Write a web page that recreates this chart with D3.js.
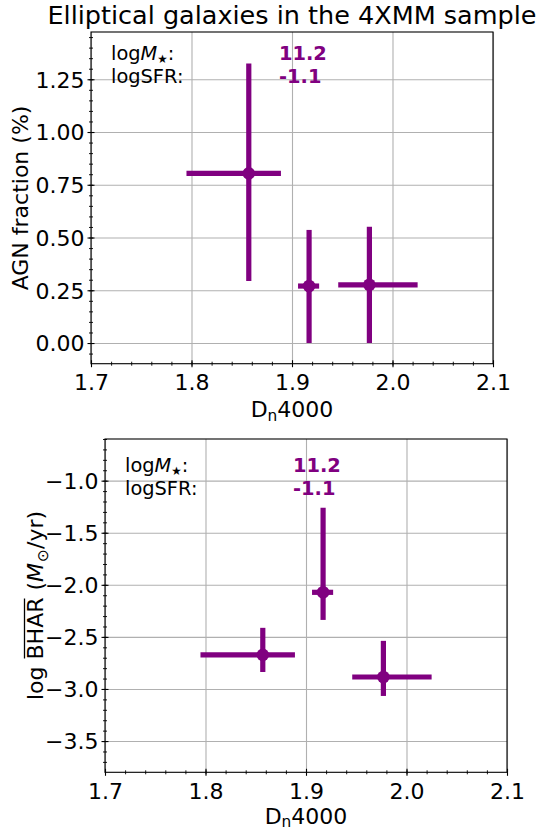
<!DOCTYPE html>
<html><head><meta charset="utf-8">
<script src="https://cdn.jsdelivr.net/npm/d3@7"></script>
<style>body{margin:0;background:#fff} text{font-family:"DejaVu Sans",sans-serif;fill:#000;white-space:pre}</style>
</head><body><svg id="c" width="543" height="830" xmlns="http://www.w3.org/2000/svg"></svg>
<script>
// ---------------- data ----------------
const dn4000    = [1.857, 1.917, 1.977];
const dn4000Lo  = [1.795, 1.906, 1.946];
const dn4000Hi  = [1.889, 1.927, 2.025];
const agnFrac   = [0.804, 0.270, 0.276];
const agnFracLo = [0.294, 0.000, 0.000];
const agnFracHi = [1.325, 0.536, 0.551];
const logBHAR   = [-2.673, -2.072, -2.885];
const logBHARLo = [-2.837, -2.337, -3.067];
const logBHARHi = [-2.413, -1.260, -2.538];
const xTicks    = [1.7, 1.8, 1.9, 2.0, 2.1];
const agnTicks  = [0.00, 0.25, 0.50, 0.75, 1.00, 1.25];
const bharTicks = [-3.5, -3.0, -2.5, -2.0, -1.5, -1.0];
const annotMass = "11.2";
const annotSFR  = "-1.1";
const titleText = "Elliptical galaxies in the 4XMM sample";

// ---------------- drawing ----------------
const svg = d3.select("#c");
svg.append("rect").attr("width",543).attr("height",830).attr("fill","#fff");
const PURPLE = "#800080";
const FS = 22, AFS = 19.4;

function panel(cfg){
  const g = svg.append("g");
  const x = d3.scaleLinear().domain([1.7,2.1]).range([cfg.left,cfg.right]);
  const y = d3.scaleLinear().domain(cfg.ydom).range([cfg.bottom,cfg.top]);
  const H = cfg.bottom-cfg.top, W = cfg.right-cfg.left;

  // grid
  const gx = g.append("g").attr("transform",`translate(0,${cfg.bottom})`)
    .call(d3.axisBottom(x).tickValues(xTicks).tickSize(-H).tickFormat(""));
  const gy = g.append("g").attr("transform",`translate(${cfg.left},0)`)
    .call(d3.axisLeft(y).tickValues(cfg.yticks).tickSize(-W).tickFormat(""));
  [gx,gy].forEach(a=>{a.select(".domain").remove();
    a.selectAll("line").attr("stroke","#b0b0b0").attr("stroke-width",1.1);});

  // error bars + markers
  const idx = d3.range(cfg.yv.length);
  const eb = g.append("g");
  eb.selectAll("line.xe").data(idx).join("line")
    .attr("x1",i=>x(dn4000Lo[i])).attr("x2",i=>x(dn4000Hi[i]))
    .attr("y1",i=>y(cfg.yv[i])).attr("y2",i=>y(cfg.yv[i]))
    .attr("stroke",PURPLE).attr("stroke-width",5.2);
  eb.selectAll("line.ye").data(idx).join("line")
    .attr("x1",i=>x(dn4000[i])).attr("x2",i=>x(dn4000[i]))
    .attr("y1",i=>y(cfg.ylo[i])).attr("y2",i=>y(cfg.yhi[i]))
    .attr("stroke",PURPLE).attr("stroke-width",5.2);
  eb.selectAll("circle").data(idx).join("circle")
    .attr("cx",i=>x(dn4000[i])).attr("cy",i=>y(cfg.yv[i])).attr("r",6.3)
    .attr("fill",PURPLE);

  // spines
  g.append("rect").attr("x",cfg.left).attr("y",cfg.top).attr("width",W).attr("height",H)
    .attr("fill","none").attr("stroke","#000").attr("stroke-width",1.1);

  // minor ticks
  const xMinor = d3.range(0,21).map(k=>1.7+k*0.02);
  const gxm = g.append("g").attr("transform",`translate(0,${cfg.bottom})`)
    .call(d3.axisBottom(x).tickValues(xMinor).tickSize(2).tickFormat(""));
  gxm.select(".domain").remove();
  gxm.selectAll("line").attr("y1",-2).attr("y2",2).attr("stroke-width",0.9);
  const gym = g.append("g").attr("transform",`translate(${cfg.left},0)`)
    .call(d3.axisLeft(y).tickValues(cfg.yminor).tickSize(2).tickFormat(""));
  gym.select(".domain").remove();
  gym.selectAll("line").attr("x1",2).attr("x2",-2).attr("stroke-width",0.9);

  // major ticks + labels
  const ax = g.append("g").attr("transform",`translate(0,${cfg.bottom})`)
    .call(d3.axisBottom(x).tickValues(xTicks).tickSize(3.5).tickFormat(d3.format(".1f")));
  ax.select(".domain").remove();
  ax.selectAll("line").attr("y1",-3.5).attr("y2",3.5).attr("stroke-width",1.1);
  ax.selectAll("text").attr("y",26.7).attr("dy",0).attr("font-size",FS)
    .attr("font-family","DejaVu Sans");
  const ay = g.append("g").attr("transform",`translate(${cfg.left},0)`)
    .call(d3.axisLeft(y).tickValues(cfg.yticks).tickSize(3.5).tickFormat(cfg.yfmt));
  ay.select(".domain").remove();
  ay.selectAll("line").attr("x1",3.5).attr("x2",-3.5).attr("stroke-width",1.1);
  ay.selectAll("text").attr("x",-6.5).attr("dy","0.36em").attr("font-size",FS)
    .attr("font-family","DejaVu Sans");

  // x label: D_n4000
  const xl = g.append("text").attr("x",(cfg.left+cfg.right)/2).attr("y",cfg.bottom+cfg.xlab)
    .attr("text-anchor","middle").attr("font-size",FS);
  xl.append("tspan").text("D");
  xl.append("tspan").attr("font-size",FS*0.7).attr("dy",FS*0.15).text("n");
  xl.append("tspan").attr("dy",-FS*0.15).text("4000");

  // annotations
  const a1 = g.append("text").attr("x",cfg.left+20).attr("y",cfg.top+cfg.ann1).attr("font-size",AFS);
  a1.append("tspan").text("log");
  a1.append("tspan").attr("font-style","italic").text("M");
  a1.append("tspan").attr("font-size",AFS*0.6).attr("dy",AFS*0.15).text("★");
  a1.append("tspan").attr("dy",-AFS*0.15).text(":");
  g.append("text").attr("x",cfg.left+20).attr("y",cfg.top+cfg.ann2).attr("font-size",AFS).text("logSFR:");
  g.append("text").attr("x",cfg.left+188).attr("y",cfg.top+cfg.ann1).attr("font-size",AFS)
    .attr("font-weight","bold").style("fill",PURPLE).text(annotMass);
  g.append("text").attr("x",cfg.left+188).attr("y",cfg.top+cfg.ann2).attr("font-size",AFS)
    .attr("font-weight","bold").style("fill",PURPLE).text(annotSFR);
  return {x,y};
}

const fmtMinus = f => d => f(d).replace("-","\u2212");

panel({left:91,right:493,top:32,bottom:363.7,ydom:[-0.098,1.474],
  yticks:agnTicks, yminor:d3.range(-1,30).map(k=>k*0.05).filter(v=>v>-0.098&&v<1.474),
  yfmt:d3.format(".2f"), yv:agnFrac, ylo:agnFracLo, yhi:agnFracHi, ann1:28, ann2:50.5, xlab:53.5});

panel({left:105,right:507,top:439,bottom:772.3,ydom:[-3.8,-0.6],
  yticks:bharTicks, yminor:d3.range(-38,-5).map(k=>k*0.1).filter(v=>v>-3.8&&v<-0.6),
  yfmt:fmtMinus(d3.format(".1f")), yv:logBHAR, ylo:logBHARLo, yhi:logBHARHi, ann1:33, ann2:55.5, xlab:51.5});

// title
svg.append("text").attr("x",292).attr("y",24).attr("text-anchor","middle")
  .attr("font-size",25.5).text(titleText);

// y label top
svg.append("text").attr("transform","translate(27.5,198) rotate(-90)")
  .attr("text-anchor","middle").attr("font-size",FS).text("AGN fraction (%)");

// y label bottom: log \overline{BHAR} (M_\odot/yr)
(function(){
  const g = svg.append("g").attr("transform","translate(43,605.5) rotate(-90)");
  const sp = 0.318*FS;
  const pieces = [
    {t:"log", fs:FS, gap:sp},
    {t:"BHAR", fs:FS, over:true, gap:sp},
    {t:"(", fs:FS},
    {t:"M", fs:FS, it:true, gap:1},
    {t:"\u2299", fs:FS*0.7, dy:FS*0.22},
    {t:"/yr)", fs:FS}
  ];
  let cx = 0; const items=[];
  pieces.forEach(p=>{
    const t = g.append("text").attr("x",cx).attr("y",p.dy||0).attr("font-size",p.fs)
      .attr("font-style",p.it?"italic":"normal").text(p.t);
    const w = t.node().getComputedTextLength();
    items.push({t,x:cx,w,p});
    cx += w + (p.gap||0);
  });
  const off = -cx/2;
  items.forEach(it=>{
    it.t.attr("x",it.x+off);
    if(it.p.over){
      g.append("line").attr("x1",it.x+off+1).attr("x2",it.x+off+it.w-1)
        .attr("y1",-18.5).attr("y2",-18.5).attr("stroke","#000").attr("stroke-width",1.3);
    }
  });
})();
</script></body></html>
